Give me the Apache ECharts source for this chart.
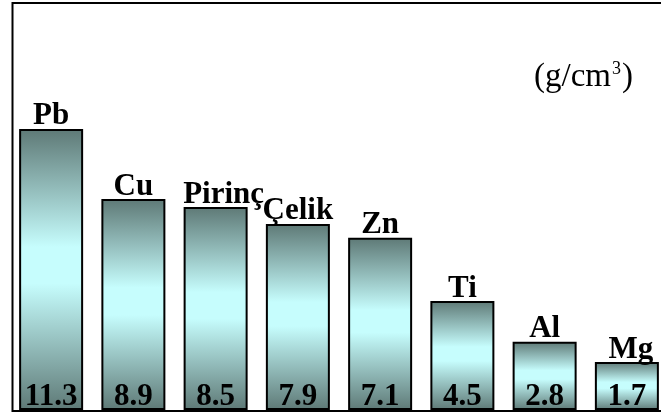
<!DOCTYPE html>
<html>
<head>
<meta charset="utf-8">
<script src="https://cdn.jsdelivr.net/npm/echarts@6/dist/echarts.min.js"></script>
<style>html,body{margin:0;padding:0;background:#fff}#c{width:661px;height:414px}</style>
</head>
<body>
<div id="c"></div>
<script>
// Metals and their densities (g/cm3) as printed on the bars
const categories = ['Pb', 'Cu', 'Pirinç', 'Çelik', 'Zn', 'Ti', 'Al', 'Mg'];
const densities = ['11.3', '8.9', '8.5', '7.9', '7.1', '4.5', '2.8', '1.7'];
// Bar heights as drawn in the picture (same units, bars are hand-drawn)
const barHeights = [11.3, 8.48, 8.16, 7.48, 6.92, 4.38, 2.74, 1.93];
const unitText = ['(g/cm', '3', ')'];

const serif = '"Liberation Serif", "Times New Roman", "DejaVu Serif", serif';
const chart = echarts.init(document.getElementById('c'));
const grad = new echarts.graphic.LinearGradient(0, 0, 0, 1, [
  { offset: 0, color: '#5e7976' },
  { offset: 0.42, color: '#c6fdfd' },
  { offset: 0.55, color: '#c6fdfd' },
  { offset: 1, color: '#5e7976' }
]);
const nameOffsets = { 'Pirinç': [8, 0], 'Mg': [4, 0] };
chart.setOption({
  animation: false,
  backgroundColor: '#ffffff',
  grid: { left: 10, width: 658, top: 12, bottom: 4, outerBoundsMode: 'none', containLabel: false },
  xAxis: { type: 'category', data: categories, show: false },
  yAxis: { type: 'value', min: 0, max: 16, show: false },
  graphic: [
    {
      type: 'rect', z: 100, silent: true,
      shape: { x: 12.5, y: 3, width: 700, height: 408 },
      style: { fill: 'none', stroke: '#000', lineWidth: 2 }
    },
    {
      type: 'text', left: 534, top: 60, z: 100,
      style: {
        text: '{a|' + unitText[0] + '}{s|' + unitText[1] + '}{a|' + unitText[2] + '}',
        rich: {
          a: { fontFamily: serif, fontSize: 33, fill: '#000' },
          s: { fontFamily: serif, fontSize: 18, fill: '#000', verticalAlign: 'top', padding: [0, 1, 16, 1] }
        }
      }
    }
  ],
  series: [
    {
      type: 'bar',
      data: barHeights,
      barWidth: 64,
      itemStyle: { color: grad, borderColor: '#000', borderWidth: 2 },
      label: {
        show: true,
        position: 'insideBottom',
        distance: -2,
        formatter: p => densities[p.dataIndex],
        fontFamily: serif, fontWeight: 'bold', fontSize: 31, color: '#000'
      }
    },
    {
      type: 'bar',
      data: barHeights.map((v, i) => nameOffsets[categories[i]]
        ? { value: v, label: { offset: nameOffsets[categories[i]] } } : v),
      barWidth: 64,
      barGap: '-100%',
      itemStyle: { color: 'transparent' },
      label: {
        show: true,
        position: 'top',
        distance: -3,
        formatter: p => categories[p.dataIndex],
        fontFamily: serif, fontWeight: 'bold', fontSize: 31, color: '#000'
      }
    }
  ]
});
</script>
</body>
</html>
